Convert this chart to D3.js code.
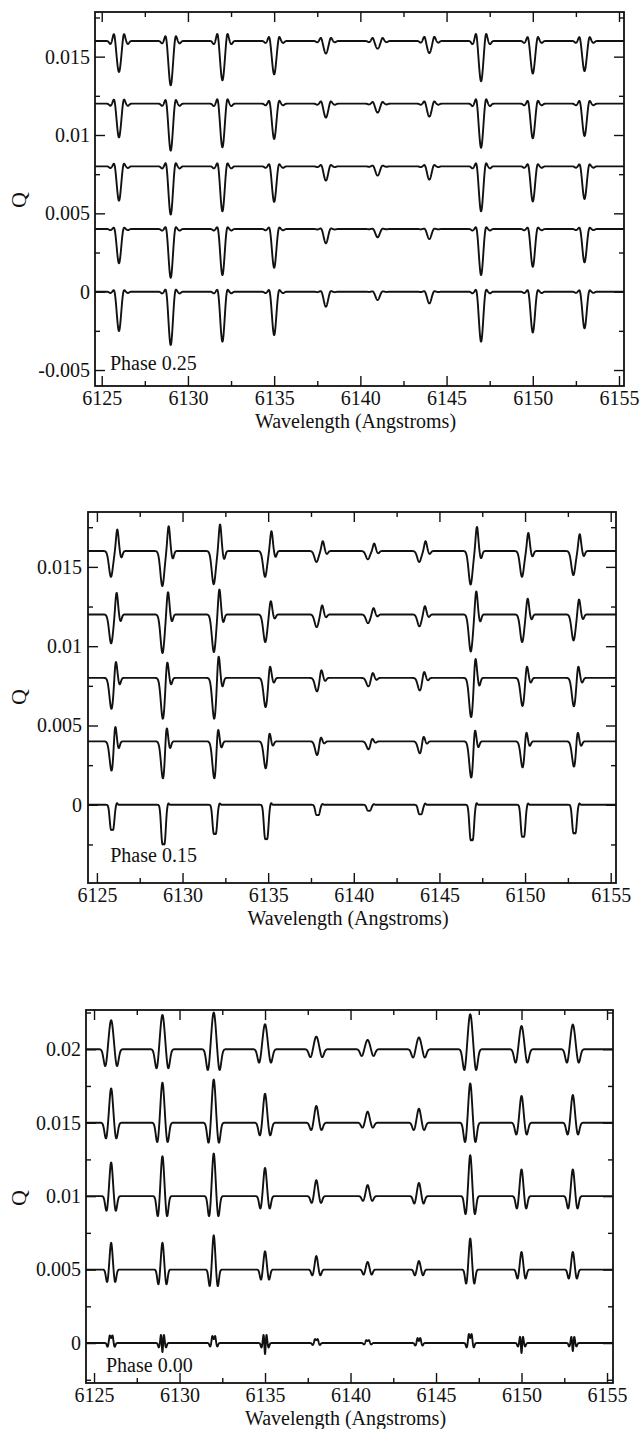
<!DOCTYPE html>
<html>
<head>
<meta charset="utf-8">
<script src="https://cdn.jsdelivr.net/npm/d3@7"></script>
<style>
  html, body { margin: 0; padding: 0; background: #fff; }
  svg { display: block; }
  text { font-family: "Liberation Serif", "Times New Roman", Times, serif; fill: #111; }
</style>
</head>
<body>
<svg id="chart" width="644" height="1429"></svg>
<script>
// ---- Data -------------------------------------------------------------
// Rest wavelengths (Angstroms) of the ten synthetic lines
const lineCenters = [6126, 6129, 6132, 6135, 6138, 6141, 6144, 6147, 6150, 6153];

const xMajorTicks = [6125, 6130, 6135, 6140, 6145, 6150, 6155];
const xMinorTicks = [6127.5, 6132.5, 6137.5, 6142.5, 6147.5, 6152.5];

// Phase 0.25: vertical offsets of the five spectra (top to bottom)
const p25Offsets = [0.016, 0.012, 0.008, 0.004, 0];
// central absorption depth of each line, per spectrum
const p25Depth = [
  [0.00198, 0.00283, 0.00251, 0.00213, 0.00080, 0.00049, 0.00077, 0.00257, 0.00208, 0.00192],
  [0.00215, 0.00300, 0.00278, 0.00225, 0.00089, 0.00057, 0.00083, 0.00281, 0.00221, 0.00206],
  [0.00219, 0.00308, 0.00287, 0.00227, 0.00091, 0.00059, 0.00085, 0.00287, 0.00224, 0.00208],
  [0.00219, 0.00311, 0.00294, 0.00247, 0.00091, 0.00053, 0.00064, 0.00294, 0.00241, 0.00213],
  [0.00251, 0.00340, 0.00319, 0.00277, 0.00096, 0.00053, 0.00075, 0.00319, 0.00260, 0.00234]
];
// height of the small wing bumps either side of each line
const p25Bump = [
  [0.00042, 0.00026, 0.00042, 0.00022, 0.00019, 0.00019, 0.00026, 0.00042, 0.00022, 0.00022],
  [0.00022, 0.00016, 0.00022, 0.00013, 0.00013, 0.00010, 0.00013, 0.00022, 0.00013, 0.00013],
  [0.00010, 0.00010, 0.00010, 0.00006, 0.00006, 0.00003, 0.00006, 0.00010, 0.00006, 0.00006],
  [0, 0, 0, 0, 0, 0, 0, 0, 0, 0],
  [0, 0, 0, 0, 0, 0, 0, 0, 0, 0]
];

// Phase 0.15
const p15Offsets = [0.016, 0.012, 0.008, 0.004, 0];
// depth of the blue-side trough
const p15Dip = [
  [0.00163, 0.00221, 0.00209, 0.00163, 0.00069, 0.00052, 0.00069, 0.00211, 0.00163, 0.00152],
  [0.00182, 0.00243, 0.00237, 0.00174, 0.00080, 0.00055, 0.00075, 0.00233, 0.00174, 0.00164],
  [0.00195, 0.00257, 0.00257, 0.00184, 0.00085, 0.00053, 0.00079, 0.00247, 0.00177, 0.00179],
  [0.00184, 0.00233, 0.00233, 0.00170, 0.00086, 0.00050, 0.00075, 0.00228, 0.00164, 0.00159],
  [0.00153, 0.00241, 0.00178, 0.00209, 0.00063, 0.00036, 0.00058, 0.00216, 0.00195, 0.00174]
];
// height of the red-side peak
const p15Peak = [
  [0.00135, 0.00156, 0.00167, 0.00125, 0.00062, 0.00047, 0.00062, 0.00152, 0.00114, 0.00106],
  [0.00136, 0.00140, 0.00157, 0.00084, 0.00057, 0.00040, 0.00052, 0.00145, 0.00099, 0.00094],
  [0.00098, 0.00093, 0.00131, 0.00068, 0.00047, 0.00030, 0.00036, 0.00116, 0.00068, 0.00068],
  [0.00084, 0.00072, 0.00061, 0.00040, 0.00019, 0.00013, 0.00025, 0.00057, 0.00047, 0.00047],
  [0.00010, 0.00008, 0.00008, 0.00010, 0.00005, 0.00004, 0.00008, 0.00010, 0.00008, 0.00008]
];

// Phase 0.00
const p00Offsets = [0.02, 0.015, 0.01, 0.005, 0];
// central peak of each line (for the bottom spectrum: height of the twin peaks)
const p00Peak = [
  [0.00197, 0.00233, 0.00250, 0.00170, 0.00086, 0.00063, 0.00080, 0.00238, 0.00158, 0.00168],
  [0.00233, 0.00272, 0.00294, 0.00197, 0.00114, 0.00075, 0.00095, 0.00267, 0.00182, 0.00188],
  [0.00229, 0.00272, 0.00290, 0.00192, 0.00109, 0.00075, 0.00090, 0.00279, 0.00182, 0.00182],
  [0.00182, 0.00182, 0.00233, 0.00124, 0.00092, 0.00052, 0.00058, 0.00211, 0.00120, 0.00120],
  [0.00052, 0.00054, 0.00048, 0.00054, 0.00027, 0.00020, 0.00034, 0.00061, 0.00041, 0.00041]
];
// depth of the side lobes (for the bottom spectrum: signed value at line centre)
const p00Lobe = [
  [-0.00114, -0.00129, -0.00141, -0.00091, -0.00054, -0.00046, -0.00056, -0.00141, -0.00091, -0.00091],
  [-0.00107, -0.00132, -0.00136, -0.00086, -0.00050, -0.00034, -0.00050, -0.00132, -0.00080, -0.00080],
  [-0.00100, -0.00136, -0.00136, -0.00084, -0.00046, -0.00032, -0.00050, -0.00122, -0.00084, -0.00084],
  [-0.00084, -0.00100, -0.00112, -0.00068, -0.00039, -0.00034, -0.00039, -0.00095, -0.00061, -0.00061],
  [0.00034, -0.00061, 0.00027, -0.00075, 0.00020, 0.00014, 0.00014, 0.00034, -0.00068, -0.00054]
];

// ---- Profile shapes -----------------------------------------------------
// Each line profile is a sum of Gaussian components {dx, s, k, g} (offset and
// width in Angstroms, relative weight, group). Two groups are scaled so the
// profile passes through the tabulated values at the two anchor offsets.
const shapes25 = [0.28, 0.27, 0.26, 0.26, 0.26].map(b => ({
  anchors: [0, b],
  comps: [
    { dx: 0, s: 0.12, k: 1, g: 0 },
    { dx: -b, s: 0.07, k: 1, g: 1 }, { dx: b, s: 0.07, k: 1, g: 1 },
    { dx: -0.5, s: 0.07, k: -0.35, g: 1 }, { dx: 0.52, s: 0.07, k: -0.35, g: 1 }
  ]
}));

const shapes15 = [
  [-0.18, 0.19, 0.43, 0.30],
  [-0.17, 0.15, 0.38, 0.30],
  [-0.15, 0.10, 0.33, 0.35],
  [-0.14, 0.06, 0.27, 0.35]
].map(([d, p, n, r]) => ({
  anchors: [d, p],
  comps: [
    { dx: d, s: 0.115, k: 1, g: 0 },
    { dx: p, s: 0.075, k: 1, g: 1 },
    { dx: n, s: 0.07, k: -r, g: 1 }
  ]
}));
shapes15.push({
  anchors: [-0.19, 0.17],
  comps: [
    { dx: -0.19, s: 0.07, k: 1, g: 0 }, { dx: -0.04, s: 0.07, k: 1, g: 0 },
    { dx: 0.17, s: 0.04, k: 1, g: 1 }
  ]
});

const shapes00 = [
  [0.12, 0.34, 0.10],
  [0.10, 0.30, 0.09],
  [0.09, 0.27, 0.08],
  [0.078, 0.235, 0.07]
].map(([sp, d, sl]) => ({
  anchors: [0, d],
  comps: [
    { dx: 0, s: sp, k: 1, g: 0 },
    { dx: -d, s: sl, k: 1, g: 1 }, { dx: d, s: sl, k: 1, g: 1 }
  ]
}));
shapes00.push({
  anchors: [0.08, 0],
  comps: [
    { dx: -0.08, s: 0.04, k: 1, g: 0 }, { dx: 0.08, s: 0.04, k: 1, g: 0 },
    { dx: -0.21, s: 0.045, k: -0.5, g: 0 }, { dx: 0.21, s: 0.045, k: -0.5, g: 0 },
    { dx: 0, s: 0.035, k: 1, g: 1 }
  ]
});

// ---- Panels --------------------------------------------------------------
const panels = [
  {
    label: "Phase 0.25", labelAt: [6125.48, -0.005],
    left: 95, right: 624, top: 12, bottom: 386,
    xDomain: [6124.61, 6155.29], yDomain: [-0.00602, 0.01785],
    yMajor: [-0.005, 0, 0.005, 0.01, 0.015],
    yMinor: [-0.0025, 0.0025, 0.0075, 0.0125, 0.0175],
    yPad: 5, qAt: [19, 200],
    offsets: p25Offsets, a: p25Depth.map(r => r.map(v => -v)), b: p25Bump, shapes: shapes25
  },
  {
    label: "Phase 0.15", labelAt: [6125.78, -0.00358],
    left: 88, right: 616, top: 512, bottom: 883,
    xDomain: [6124.48, 6155.31], yDomain: [-0.00493, 0.01846],
    yMajor: [0, 0.005, 0.01, 0.015],
    yMinor: [-0.0025, 0.0025, 0.0075, 0.0125, 0.0175],
    yPad: 6, qAt: [19, 697],
    offsets: p15Offsets, a: p15Dip.map(r => r.map(v => -v)), b: p15Peak, shapes: shapes15
  },
  {
    label: "Phase 0.00", labelAt: [6125.7, -0.00195],
    left: 86, right: 613, top: 1010, bottom: 1383,
    xDomain: [6124.53, 6155.35], yDomain: [-0.00272, 0.02267],
    yMajor: [0, 0.005, 0.01, 0.015, 0.02],
    yMinor: [-0.0025, 0.0025, 0.0075, 0.0125, 0.0175, 0.0225],
    yPad: 5, qAt: [19, 1198],
    offsets: p00Offsets, a: p00Peak, b: p00Lobe, shapes: shapes00
  }
];

// ---- Drawing ------------------------------------------------------------
const svg = d3.select("#chart");

function gauss(x, s) { return Math.exp(-0.5 * (x / s) * (x / s)); }
function groupAt(comps, g, x) {
  let v = 0;
  for (const c of comps) if (c.g === g) v += c.k * gauss(x - c.dx, c.s);
  return v;
}
// scale the two component groups so the profile hits v0 and v1 at the anchors
function solveAmps(shape, v0, v1) {
  const [a0, a1] = shape.anchors;
  const m00 = groupAt(shape.comps, 0, a0), m01 = groupAt(shape.comps, 1, a0);
  const m10 = groupAt(shape.comps, 0, a1), m11 = groupAt(shape.comps, 1, a1);
  const det = m00 * m11 - m01 * m10;
  return [(v0 * m11 - m01 * v1) / det, (m00 * v1 - m10 * v0) / det];
}

function spectrum(p, row) {
  const shape = p.shapes[row];
  const amps = lineCenters.map((c, i) => solveAmps(shape, p.a[row][i], p.b[row][i]));
  const pts = [];
  const step = 0.01;
  for (let w = p.xDomain[0]; w <= p.xDomain[1] + 1e-9; w += step) {
    let q = p.offsets[row];
    lineCenters.forEach((c, i) => {
      const d = w - c;
      if (Math.abs(d) > 1) return;
      for (const comp of shape.comps) q += amps[i][comp.g] * comp.k * gauss(d - comp.dx, comp.s);
    });
    pts.push([w, q]);
  }
  return pts;
}

function styleAxis(g) {
  g.select(".domain").remove();
  g.selectAll(".tick line").attr("stroke", "#111").attr("stroke-width", 1.4);
  g.selectAll(".tick text").attr("font-size", 20)
    .attr("font-family", '"Liberation Serif", "Times New Roman", Times, serif').attr("fill", "#111");
}

panels.forEach(p => {
  const x = d3.scaleLinear().domain(p.xDomain).range([p.left, p.right]);
  const y = d3.scaleLinear().domain(p.yDomain).range([p.bottom, p.top]);
  const g = svg.append("g");

  // spectra
  const line = d3.line().x(d => x(d[0])).y(d => y(d[1]));
  p.offsets.forEach((o, row) => {
    g.append("path").datum(spectrum(p, row))
      .attr("fill", "none").attr("stroke", "#111").attr("stroke-width", 1.9)
      .attr("stroke-linejoin", "round").attr("d", line);
  });

  // bottom axis with labels, ticks pointing inward
  g.append("g").attr("transform", `translate(0,${p.bottom})`)
    .call(d3.axisBottom(x).tickValues(xMajorTicks).tickSizeInner(-10).tickSizeOuter(0)
      .tickPadding(5).tickFormat(d3.format("d"))).call(styleAxis);
  g.append("g").attr("transform", `translate(0,${p.bottom})`)
    .call(d3.axisBottom(x).tickValues(xMinorTicks).tickSize(-5).tickFormat("")).call(styleAxis);
  // top mirror ticks
  g.append("g").attr("transform", `translate(0,${p.top})`)
    .call(d3.axisTop(x).tickValues(xMajorTicks).tickSize(-10).tickFormat("")).call(styleAxis);
  g.append("g").attr("transform", `translate(0,${p.top})`)
    .call(d3.axisTop(x).tickValues(xMinorTicks).tickSize(-5).tickFormat("")).call(styleAxis);

  // left axis with labels
  g.append("g").attr("transform", `translate(${p.left},0)`)
    .call(d3.axisLeft(y).tickValues(p.yMajor).tickSizeInner(-10).tickSizeOuter(0)
      .tickPadding(p.yPad).tickFormat(d => String(d))).call(styleAxis);
  g.append("g").attr("transform", `translate(${p.left},0)`)
    .call(d3.axisLeft(y).tickValues(p.yMinor).tickSize(-5).tickFormat("")).call(styleAxis);
  // right mirror ticks
  g.append("g").attr("transform", `translate(${p.right},0)`)
    .call(d3.axisRight(y).tickValues(p.yMajor).tickSize(-10).tickFormat("")).call(styleAxis);
  g.append("g").attr("transform", `translate(${p.right},0)`)
    .call(d3.axisRight(y).tickValues(p.yMinor).tickSize(-5).tickFormat("")).call(styleAxis);

  // frame
  g.append("rect").attr("x", p.left).attr("y", p.top)
    .attr("width", p.right - p.left).attr("height", p.bottom - p.top)
    .attr("fill", "none").attr("stroke", "#111").attr("stroke-width", 1.8);

  // axis titles
  g.append("text").attr("x", (p.left + p.right) / 2 - 4).attr("y", p.bottom + 42)
    .attr("text-anchor", "middle").attr("font-size", 20).text("Wavelength (Angstroms)");
  g.append("text").attr("transform", `translate(${p.qAt[0] + 7},${p.qAt[1]}) rotate(-90)`)
    .attr("text-anchor", "middle").attr("font-size", 22).text("Q");

  // phase annotation
  g.append("text").attr("x", x(p.labelAt[0])).attr("y", y(p.labelAt[1]))
    .attr("font-size", 20).text(p.label);
});
</script>
</body>
</html>
